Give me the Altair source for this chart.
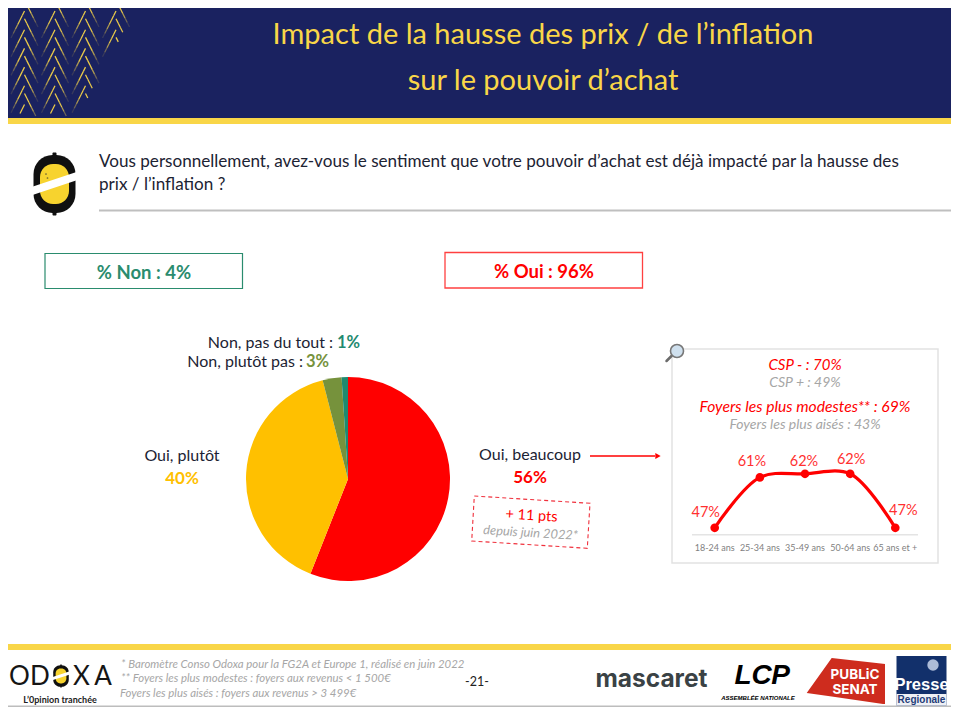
import altair as alt

# ---- chart data
PIE_LABELS = ["Oui, beaucoup", "Oui, plutôt", "Non, plutôt pas", "Non, pas du tout"]
PIE_VALUES = [56, 40, 3, 1]
PIE_COLORS = ["#FF0000", "#FFC000", "#76923C", "#1F8A70"]
AGES = ["18-24 ans", "25-34 ans", "35-49 ans", "50-64 ans", "65 ans et +"]
AGE_VALUES = [47, 61, 62, 62, 47]
LABEL_DX = [-9, -8, -1, 1, 8]
LABEL_DY = [-15, -15, -12, -14, -17]

# ---- palette and pixel scales for the slide furniture
FONT = "Lato"
NAVY = "#1A2260"
YELLOW = "#F9D648"
GREY = "#A6A6A6"
RED = "#FF0000"
INK = "#1C2333"
PX = alt.Scale(domain=[0, 959], range=[0, 959], zero=False, nice=False)
PY = alt.Scale(domain=[0, 715], range=[0, 715], zero=False, nice=False)
X = lambda f="x": alt.X(f"{f}:Q", scale=PX, axis=None)
Y = lambda f="y": alt.Y(f"{f}:Q", scale=PY, axis=None)
layers = []


def rect(x0, y0, x1, y1, fill=None, stroke=None, sw=0, r=0, op=1):
    kw = dict(cornerRadius=r, opacity=op)
    if fill:
        kw["fill"] = fill
    else:
        kw["fillOpacity"] = 0
    if stroke:
        kw["stroke"] = stroke
        kw["strokeWidth"] = sw
    layers.append(
        alt.Chart(alt.Data(values=[dict(x=x0, y=y0, x2=x1, y2=y1)]))
        .mark_rect(**kw)
        .encode(x=X(), y=Y(), x2="x2:Q", y2="y2:Q")
    )


def seg(pts, color, sw, dash=None, cap="butt"):
    rows = [dict(x=p[0], y=p[1], i=i) for i, p in enumerate(pts)]
    kw = dict(color=color, strokeWidth=sw, strokeCap=cap)
    if dash:
        kw["strokeDash"] = dash
    layers.append(
        alt.Chart(alt.Data(values=rows))
        .mark_line(**kw)
        .encode(x=X(), y=Y(), order="i:Q")
    )


def txt(t, x, y, size, color=INK, align="center", weight="normal", style="normal",
        font=FONT, angle=0):
    kw = dict(fontSize=size, color=color, align=align, baseline="middle", fontWeight=weight,
              fontStyle=style, font=font)
    if angle:
        kw["angle"] = angle
    layers.append(
        alt.Chart(alt.Data(values=[dict(x=x, y=y, t=t)]))
        .mark_text(**kw)
        .encode(x=X(), y=Y(), text="t:N")
    )


def lemon(cx, cy, s):
    rect(cx - 21 * s, cy - 29 * s, cx + 21 * s, cy + 29 * s, fill="#101010", r=19 * s)
    rect(cx - 2 * s, cy - 31.5 * s, cx + 2 * s, cy + 31.5 * s, fill="#101010", r=1)
    rect(cx - 14.5 * s, cy - 20 * s, cx + 14.5 * s, cy + 20 * s, fill="#F7D32E", r=13 * s)
    seg([(cx - 27 * s, cy + 8.5 * s), (cx + 27 * s, cy - 9.5 * s)], "#FFFFFF", 8 * s)


# ---- header
rect(0, 0, 959, 118, fill=NAVY)
rect(0, 118, 959, 124, fill=YELLOW)

CHEVRON_COLS = [-6, 24.5, 55, 85.5, 116]
CHEVRON_PITCH = 18.7
STROKE_FADE = [1, 1, 0.95, 0.7, 0.4, 0.15]
chev = []
for cx in CHEVRON_COLS:
    for row in range(7):
        for sgn, start in ((1, 0), (-1, 11)):
            ay = row * CHEVRON_PITCH + start
            for k, o in enumerate(STROKE_FADE):
                x0 = cx + sgn * 2.25 * k
                y0 = ay + 4.5 * k
                x1 = x0 + sgn * 2.25
                y1 = y0 + 4.5
                if y1 > 116 or max(x0, x1) > 145 - 0.55 * y1:
                    break
                chev.append(dict(x=x0, y=y0, x2=x1, y2=y1, o=o * 0.95))
layers.append(
    alt.Chart(alt.Data(values=chev))
    .mark_rule(color=YELLOW, strokeWidth=1.3)
    .encode(x=X(), y=Y(), x2="x2:Q", y2="y2:Q", opacity=alt.Opacity("o:Q", scale=None))
)

txt("Impact de la hausse des prix / de l’inflation", 543, 35, 29, YELLOW)
txt("sur le pouvoir d’achat", 543, 81, 29, YELLOW)

# ---- question
lemon(54.5, 184, 1)
layers.append(
    alt.Chart(alt.Data(values=[dict(x=46, y=174), dict(x=47.5, y=178)]))
    .mark_point(filled=True, color="#333333", size=3)
    .encode(x=X(), y=Y())
)
txt("Vous personnellement, avez-vous le sentiment que votre pouvoir d’achat est déjà impacté par la hausse des",
    99, 162, 17.1, INK, align="left")
txt("prix / l’inflation ?", 99, 185, 17.1, INK, align="left")
rect(99, 209.5, 959, 211.5, fill="#BFBFBF")

# ---- summary boxes
rect(45, 253.5, 242.5, 288.5, stroke="#2A8C6E", sw=1.2)
txt("% Non : 4%", 144, 272.5, 18.5, "#2A8C6E", weight="bold")
rect(445, 252.5, 642.5, 288, stroke="#FF4040", sw=1.3)
txt("% Oui : 96%", 544, 272, 18.5, RED, weight="bold")

# ---- pie
pie_rows = [dict(label=l, v=v, i=i) for i, (l, v) in enumerate(zip(PIE_LABELS, PIE_VALUES))]
layers.append(
    alt.Chart(alt.Data(values=pie_rows))
    .mark_arc(radius=102)
    .encode(
        x=alt.value(348),
        y=alt.value(479),
        theta=alt.Theta("v:Q", stack=True),
        order=alt.Order("i:Q"),
        color=alt.Color("label:N", scale=alt.Scale(domain=PIE_LABELS, range=PIE_COLORS), legend=None),
    )
)

txt("Non, pas du tout :", 333, 343, 16, INK, align="right")
txt(f"{PIE_VALUES[3]}%", 337, 343, 16.5, PIE_COLORS[3], align="left", weight="bold")
txt("Non, plutôt pas :", 303, 362, 16, INK, align="right")
txt(f"{PIE_VALUES[2]}%", 306, 362, 16.5, PIE_COLORS[2], align="left", weight="bold")
txt("Oui, plutôt", 182, 456, 16, INK)
txt(f"{PIE_VALUES[1]}%", 182, 479, 17, PIE_COLORS[1], weight="bold")
txt("Oui, beaucoup", 530, 455, 16, INK)
txt(f"{PIE_VALUES[0]}%", 530, 478, 17, RED, weight="bold")

# ---- arrow
seg([(590, 456), (655, 456)], RED, 1.4)
layers.append(
    alt.Chart(alt.Data(values=[dict(x=658, y=456)]))
    .mark_point(shape="triangle-right", filled=True, color=RED, size=38, opacity=1)
    .encode(x=X(), y=Y())
)

# ---- dashed evolution note
seg([(474.3, 496), (590, 503.3), (587.3, 548.3), (471.7, 541), (474.3, 496)], "#F0303C", 1.1, dash=[4, 3])
txt("+ 11 pts", 531.5, 516, 14.5, RED, angle=3.5)
txt("depuis juin 2022*", 530.5, 533, 12.8, GREY, style="italic", angle=3.5)

# ---- inset
rect(672, 349, 938, 563, fill="#FFFFFF", stroke="#E2E2E2", sw=1.5)
seg([(671.5, 356), (666.5, 361)], "#6B6B6B", 2.5, cap="round")
layers.append(
    alt.Chart(alt.Data(values=[dict(x=677, y=351)]))
    .mark_point(shape="circle", filled=True, color="#CFE0EE", stroke="#777777", strokeWidth=1.6, size=170, opacity=1)
    .encode(x=X(), y=Y())
)
txt("CSP - : 70%", 805, 365, 15, RED, style="italic")
txt("CSP + : 49%", 805, 383, 14, GREY, style="italic")
txt("Foyers les plus modestes** : 69%", 805, 407, 15.7, RED, style="italic")
txt("Foyers les plus aisés : 43%", 805, 425, 14, GREY, style="italic")
rect(692, 534, 918, 535.5, fill="#E4E4E4")

AGE_X = alt.Scale(type="point", domain=AGES, range=[714.7, 895.3], padding=0)
AGE_Y = alt.Scale(domain=[40, 70], range=[553, 445], zero=False, nice=False)
age_rows = [dict(age=a, v=v) for a, v in zip(AGES, AGE_VALUES)]
age_base = alt.Chart(alt.Data(values=age_rows)).encode(
    x=alt.X("age:N", scale=AGE_X, axis=None, sort=None),
    y=alt.Y("v:Q", scale=AGE_Y, axis=None),
)
layers.append(age_base.mark_line(color=RED, strokeWidth=3.2, interpolate="catmull-rom"))
layers.append(age_base.mark_point(filled=True, color=RED, size=75, opacity=1))
for row, dx, dy in zip(age_rows, LABEL_DX, LABEL_DY):
    layers.append(
        alt.Chart(alt.Data(values=[row]))
        .mark_text(fontSize=14.5, color="#FF3030", font=FONT, dx=dx, dy=dy, baseline="middle")
        .encode(
            x=alt.X("age:N", scale=AGE_X, axis=None, sort=None),
            y=alt.Y("v:Q", scale=AGE_Y, axis=None),
            text=alt.Text("label:N"),
        )
        .transform_calculate(label="datum.v + '%'")
    )
layers.append(
    alt.Chart(alt.Data(values=age_rows))
    .mark_text(fontSize=9, color="#7F7F7F", font=FONT, baseline="middle")
    .encode(
        x=alt.X("age:N", scale=AGE_X, axis=None, sort=None),
        y=alt.value(548),
        text="age:N",
    )
)

# ---- footer
rect(0, 644, 959, 650, fill=YELLOW)
rect(0, 705.5, 959, 707, fill="#BDBDBD")
for letter, cx in zip("ODXA", [19.5, 40, 81.5, 103]):
    txt(letter, cx, 677, 26, "#151515", font=FONT)
lemon(61, 676, 0.37)
txt("L’0pinion tranchée", 60, 700, 9, "#222222", weight="bold")
txt("* Baromètre Conso Odoxa pour la FG2A et Europe 1, réalisé en juin 2022", 121, 664.5, 11.4, GREY, align="left", style="italic")
txt("** Foyers les plus modestes : foyers aux revenus < 1 500€", 121, 678.5, 11.4, GREY, align="left", style="italic")
txt("Foyers les plus aisés : foyers aux revenus > 3 499€", 120, 693.5, 11.4, GREY, align="left", style="italic")
txt("-21-", 477, 682, 12.5, "#222222")

txt("mascaret", 651.5, 680, 24.5, "#3A4245", weight="bold", font="Inter")
for letter, cx in zip("LCP", [743, 761.5, 780.5]):
    txt(letter, cx, 676, 28, "#000000", weight="bold", style="italic", font="Liberation Sans")
txt("ASSEMBLÉE NATIONALE", 758, 697.5, 6, "#000000", weight="bold", style="italic", font="Liberation Sans")

PS_X = [806.7, 831.7, 883, 885]
PS_TOP = [693, 658, 663.8, 664]
PS_BOTTOM = [693, 696.5, 704, 704]
layers.append(
    alt.Chart(alt.Data(values=[dict(x=a, y=b, y2=c) for a, b, c in zip(PS_X, PS_TOP, PS_BOTTOM)]))
    .mark_area(color="#CE2C1E", opacity=1)
    .encode(x=X(), y=Y(), y2="y2:Q")
)
txt("PUBLiC", 855, 675, 13.5, "#FFFFFF", weight="bold", font="Inter")
txt("SENAT", 855, 690, 13.5, "#FFFFFF", weight="bold", font="Inter")

rect(896.5, 656, 946.5, 705.5, fill="#12306B")
rect(896.5, 694, 946.5, 705.5, fill="#EEF0F5")
layers.append(
    alt.Chart(alt.Data(values=[dict(x=933, y=665)]))
    .mark_point(shape="circle", filled=True, color="#C8D4EA", size=130, opacity=0.85)
    .encode(x=X(), y=Y())
)
txt("Presse", 921.5, 685, 16.5, "#FFFFFF", weight="bold", font="Liberation Sans")
txt("Regionale", 921.5, 700, 10, "#1E3C78", weight="bold", font="Liberation Sans")

chart = (
    alt.layer(*layers)
    .resolve_scale(x="independent", y="independent", color="independent")
    .properties(
        width=951,
        height=707,
        background="#FFFFFF",
        padding={"left": -8, "top": -8, "right": 0, "bottom": 0},
        autosize=alt.AutoSizeParams(type="none"),
    )
    .configure_view(stroke=None)
)
chart.save("out.html", embed_options={"renderer": "svg", "actions": False})
